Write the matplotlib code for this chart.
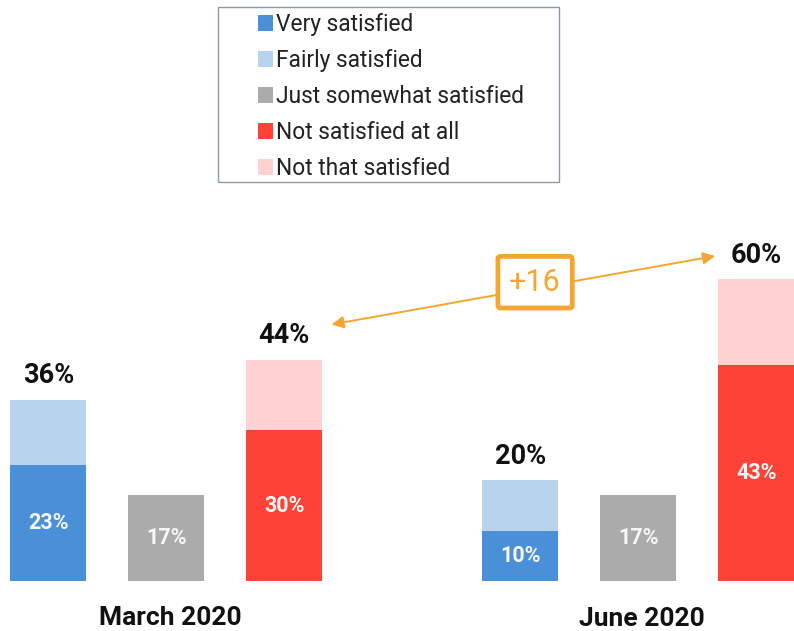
"""
satisfaction bars, march vs june 2020
"""

import matplotlib.pyplot as plt
from matplotlib.patches import Rectangle

plt.rcParams['font.family'] = ['Roboto', 'DejaVu Sans']

# data
periods = ["March 2020", "June 2020"]
very = [23, 10]
fairly = [13, 10]
just = [17, 17]
not_at_all = [30, 43]
not_that = [14, 17]
sat_total = [36, 20]
unsat_total = [44, 60]
change = "+16"

legend_labels = ["Very satisfied", "Fairly satisfied", "Just somewhat satisfied",
                 "Not satisfied at all", "Not that satisfied"]

DARKBLUE = "#4A90D9"
LIGHTBLUE = "#B7D3EE"
GREY = "#ABABAB"
RED = "#FD4338"
PINK = "#FFD1D1"
ORANGE = "#F7A530"


def main():
    fig = plt.figure(figsize=(7.94, 6.31), dpi=100)
    ax = fig.add_axes([0, 0, 1, 1])
    ax.set_xlim(-0.409, 6.319)
    ax.set_ylim(-9.94, 115.5)
    ax.axis("off")

    w = 0.644
    xs_sat = [0, 4]
    xs_just = [1, 5]
    xs_uns = [2, 6]

    b_very = ax.bar(xs_sat, very, w, color=DARKBLUE)
    b_fair = ax.bar(xs_sat, fairly, w, bottom=very, color=LIGHTBLUE)
    b_just = ax.bar(xs_just, just, w, color=GREY)
    b_nat = ax.bar(xs_uns, not_at_all, w, color=RED)
    b_nth = ax.bar(xs_uns, not_that, w, bottom=not_at_all, color=PINK)

    # inside labels
    inside = dict(color="#F7F7F7", fontsize=15.5, fontweight="bold",
                  ha="center", va="center")
    for i in range(2):
        ax.text(xs_sat[i], very[i] / 2, "%d%%" % very[i], **inside)
        ax.text(xs_just[i], just[i] / 2, "%d%%" % just[i], **inside)
        ax.text(xs_uns[i], not_at_all[i] / 2, "%d%%" % not_at_all[i], **inside)

    # totals on top
    for i in range(2):
        for x, bot, top, tot in [(xs_sat[i], very[i], fairly[i], sat_total[i]),
                                 (xs_uns[i], not_at_all[i], not_that[i], unsat_total[i])]:
            ax.annotate("%d%%" % tot, (x, bot + top), xytext=(0, 12),
                        textcoords="offset points", ha="center", va="baseline",
                        fontsize=19.5, fontweight="bold", color="#111111")

    # period labels
    ax.text(xs_just[0] + 0.03, -8.75, periods[0], ha="center", va="baseline",
            fontsize=19, fontweight="bold", color="#111111")
    ax.text(xs_just[1] + 0.03, -8.9, periods[1], ha="center", va="baseline",
            fontsize=19, fontweight="bold", color="#111111")

    # change arrow between the two unsatisfied totals
    x0, y0 = xs_uns[0] + 0.40, unsat_total[0] + 7.0
    x1, y1 = xs_uns[1] - 0.35, unsat_total[1] + 4.6
    ax.annotate("", xy=(x0, y0), xytext=(x1, y1),
                arrowprops=dict(arrowstyle="<|-|>", color=ORANGE, lw=1.4,
                                mutation_scale=18, shrinkA=0, shrinkB=0))
    ax.text((x0 + x1) / 2 + 0.10, (y0 + y1) / 2 + 1.6, change, ha="center",
            va="center", fontsize=22, color=ORANGE,
            bbox=dict(boxstyle="round,pad=0.37,rounding_size=0.08", fc="white",
                      ec=ORANGE, lw=3.4))

    # legend in a box
    fig.patches.append(Rectangle((218 / 794, 449 / 631), 341 / 794, 175 / 631,
                                 transform=fig.transFigure, fill=False,
                                 ec="#8D99A6", lw=1.0))
    handles = [b_very, b_fair, b_just, b_nat, b_nth]
    fig.legend(handles, legend_labels, loc="upper left",
               bbox_to_anchor=(258 / 794, 618 / 631), frameon=False,
               fontsize=16.4, handlelength=0.66, handleheight=0.66,
               handletextpad=0.15, labelspacing=0.57, borderpad=0,
               borderaxespad=0, labelcolor="#222222")

    fig.savefig("out.png", dpi=100)


main()
